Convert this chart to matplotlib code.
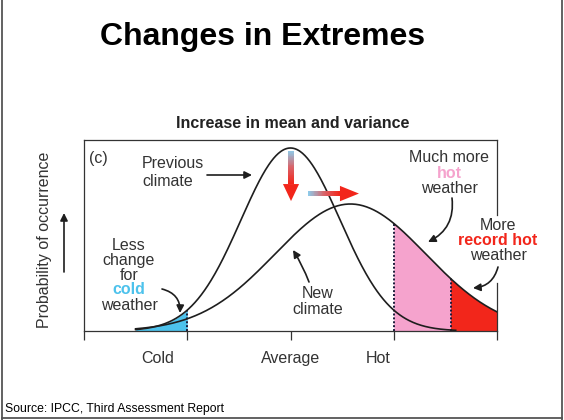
import numpy as np
import matplotlib.pyplot as plt
from matplotlib.patches import Polygon, Rectangle
from matplotlib.colors import LinearSegmentedColormap
from matplotlib.lines import Line2D

plt.rcParams['font.family'] = ['Liberation Sans', 'DejaVu Sans']

# ---- data -------------------------------------------------------------
tick_positions = [0, 1, 2, 3, 4]
category_labels = ["Cold", "Average", "Hot"]

# bell curves: (mean, standard deviation, peak height)
previous_climate = (2.0, 0.48, 1.0)
new_climate = (2.58, 0.73, 0.694)

# temperature thresholds
cold_threshold = 1.0
hot_threshold = 3.0
record_threshold = 3.55

# ---- layout / style -----------------------------------------------------
W, H = 564, 420
label_x = [0.71, 2.0, 2.85]
c_blue = '#4DC2EC'
c_pink = '#F5A3CD'
c_red = '#F2261B'
c_line = '#1e1e1e'
c_text = '#333333'


def px(x, y):
    """pixel position (from top-left) -> figure fraction"""
    return x / W, 1 - y / H


def bell(x, params):
    mean, sd, peak = params
    return peak * np.exp(-0.5 * ((x - mean) / sd) ** 2)


fig = plt.figure(figsize=(W / 100, H / 100), dpi=100)
fig.patch.set_facecolor('white')

ax = fig.add_axes([84 / W, (H - 331) / H, 413 / W, 191 / H])
ax.set_xlim(0, 4)
ax.set_ylim(0, 191 / 183)
for side in ('left', 'top', 'bottom'):
    ax.spines[side].set_linewidth(0.9)
    ax.spines[side].set_color('#333333')
ax.spines['right'].set_visible(False)
ax.set_xticks(tick_positions)
ax.set_yticks([])
ax.tick_params(axis='x', direction='out', length=6.5, width=0.9,
               color='#333333', labelbottom=False)

# partial right edge of the frame (gap leaves room for the label)
ax.plot([4, 4], [0.634, 191 / 183], color='#333333', lw=0.9, clip_on=False)
ax.plot([4, 4], [0, 0.262], color='#333333', lw=0.9, clip_on=False)

# curves
x_prev = np.linspace(0.5, 3.6, 400)
x_new = np.linspace(0.5, 4.0, 400)
y_prev = bell(x_prev, previous_climate)
y_new = bell(x_new, new_climate)

# shaded tails
xc = np.linspace(0.5, cold_threshold, 100)
ax.fill_between(xc, 0, bell(xc, previous_climate), color=c_blue, lw=0, zorder=1)
xh = np.linspace(hot_threshold, record_threshold, 100)
ax.fill_between(xh, 0, bell(xh, new_climate), color=c_pink, lw=0, zorder=1)
xr = np.linspace(record_threshold, 4.0, 100)
ax.fill_between(xr, 0, bell(xr, new_climate), color=c_red, lw=0, zorder=1)

# threshold markers
ax.plot([cold_threshold] * 2, [0, bell(cold_threshold, previous_climate)],
        ls=(0, (1, 1)), color='#1a1a3a', lw=1.4, zorder=2)
for t in (hot_threshold, record_threshold):
    ax.plot([t, t], [0, bell(t, new_climate)], ls=(0, (1, 1)),
            color='#1a1a3a', lw=1.4, zorder=2)

ax.plot(x_prev, y_prev, color=c_line, lw=1.2, zorder=3)
ax.plot(x_new, y_new, color=c_line, lw=1.2, zorder=3)

# gradient arrows (blue -> red)
grad = LinearSegmentedColormap.from_list('shift', ['#8ECAE9', '#D9646A', '#F2261B'])
n = 40
# vertical: lower peak
xv, y_top, y_base, y_tip = 2.005, 0.984, 0.803, 0.710
hw_shaft, hw_head = 0.027, 0.078
for i in range(n):
    y0 = y_top - (y_top - y_base) * i / n
    y1 = y_top - (y_top - y_base) * (i + 1) / n
    ax.add_patch(Rectangle((xv - hw_shaft, y1), 2 * hw_shaft, y0 - y1 + 0.002,
                           color=grad(i / (n - 1)), lw=0, zorder=4))
ax.add_patch(Polygon([(xv - hw_head, y_base), (xv + hw_head, y_base), (xv, y_tip)],
                     closed=True, color=c_red, lw=0, zorder=4))
# horizontal: warmer mean
yh, x_start, x_base, x_tip = 0.751, 2.169, 2.479, 2.663
hh_shaft, hh_head = 0.0155, 0.042
for i in range(n):
    x0 = x_start + (x_base - x_start) * i / n
    x1 = x_start + (x_base - x_start) * (i + 1) / n
    ax.add_patch(Rectangle((x0, yh - hh_shaft), x1 - x0 + 0.002, 2 * hh_shaft,
                           color=grad(i / (n - 1)), lw=0, zorder=4))
ax.add_patch(Polygon([(x_base, yh - hh_head), (x_base, yh + hh_head), (x_tip, yh)],
                     closed=True, color=c_red, lw=0, zorder=4))

# category labels under the axis
for lx, lab in zip(label_x, category_labels):
    ax.text(lx, -0.148, lab, ha='center', va='center', fontsize=11.5,
            color=c_text, clip_on=False)

# ---- text -------------------------------------------------------------
fig.text(*px(263, 45), "Changes in Extremes", ha='center', va='baseline',
         fontsize=23, fontweight='bold', color='black')
fig.text(*px(293, 128), "Increase in mean and variance", ha='center',
         va='baseline', fontsize=11.5, fontweight='bold', color='#222222')
fig.text(*px(89, 159), "(c)", ha='left', va='center', fontsize=11.5, color=c_text)
fig.text(*px(45, 240), "Probability of occurrence", rotation=90, ha='center',
         va='center', fontsize=11.5, color=c_text)
fig.text(*px(5, 409), "Source: IPCC, Third Assessment Report", ha='left',
         va='center', fontsize=8.8, color='black')


def lines(x, ys, parts, size=11.5):
    for y, (s, col, wt) in zip(ys, parts):
        fig.text(*px(x, y), s, ha='center', va='center', fontsize=size,
                 color=col, fontweight=wt)


fig.text(*px(142, 164), "Previous", ha='left', va='center', fontsize=11.5, color=c_text)
fig.text(*px(142, 181), "climate", ha='left', va='center', fontsize=11.5, color=c_text)
lines(449, [157, 173, 189], [("Much more", c_text, 'normal'),
                             ("hot", c_pink, 'bold'),
                             ("weather", c_text, 'normal')])
lines(498, [226, 241, 256], [("More", c_text, 'normal'),
                             ("record hot", c_red, 'bold'),
                             ("weather", c_text, 'normal')])
lines(129, [246, 261, 275, 290, 305], [("Less", c_text, 'normal'),
                                       ("change", c_text, 'normal'),
                                       ("for", c_text, 'normal'),
                                       ("cold", c_blue, 'bold'),
                                       ("weather", c_text, 'normal')])
lines(318, [293, 310], [("New", c_text, 'normal'), ("climate", c_text, 'normal')])


def arrow(p0, p1, rad=0.0, scale=11):
    ax.annotate("", xy=px(*p1), xycoords='figure fraction',
                xytext=px(*p0), textcoords='figure fraction',
                arrowprops=dict(arrowstyle='-|>', color='#1e1e1e', lw=1.2,
                                mutation_scale=scale, shrinkA=0, shrinkB=0,
                                connectionstyle=f'arc3,rad={rad}'),
                annotation_clip=False)


arrow((207, 175), (252, 175))
arrow((64, 272), (64, 213))
arrow((452, 198), (428, 242), rad=-0.35)
arrow((498, 267), (473, 288), rad=-0.35)
arrow((162, 289), (180, 313), rad=-0.4)
arrow((309, 282), (293, 250), rad=0.05)

# slide border
border = dict(color='#555555', lw=1.3, transform=fig.transFigure)
fig.add_artist(Line2D([1.5 / W] * 2, [0, 1], **border))
fig.add_artist(Line2D([561.5 / W] * 2, [0, 1], **border))
fig.add_artist(Line2D([1.5 / W, 561.5 / W], [1 - 417.5 / H] * 2, **border))

fig.savefig('out.png', dpi=100, facecolor='white')
